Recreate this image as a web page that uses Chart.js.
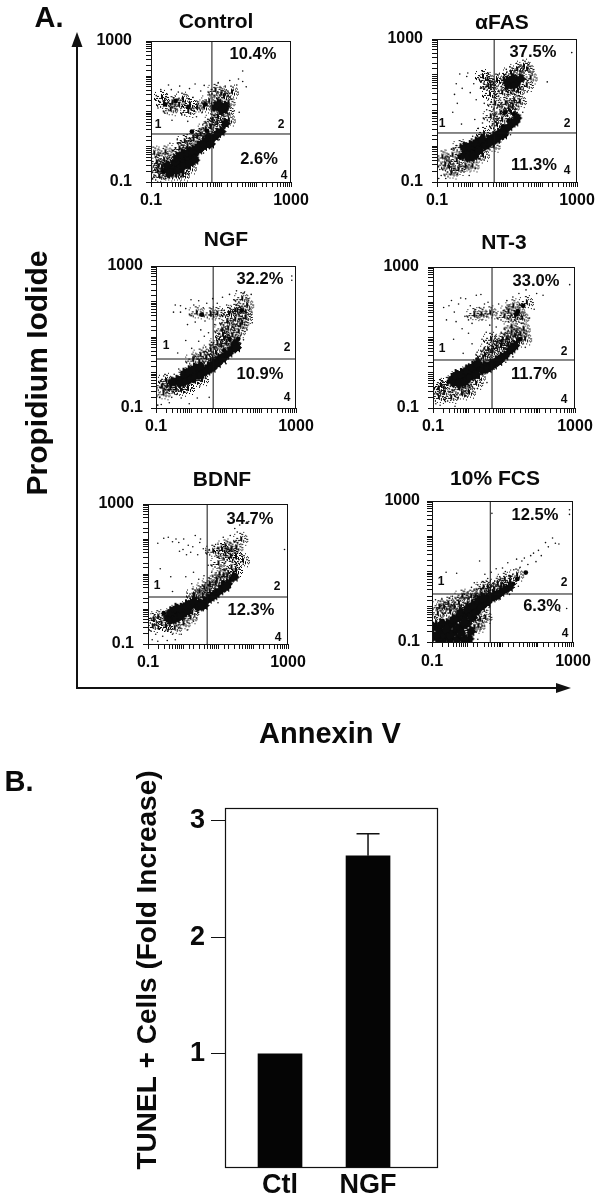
<!DOCTYPE html>
<html><head><meta charset="utf-8">
<script src="https://cdn.jsdelivr.net/npm/chart.js@4"></script>
<style>html,body{margin:0;padding:0;background:#fff}body{width:600px;height:1200px;position:relative;overflow:hidden}canvas{position:absolute}</style>
</head><body>
<script>
// Values are decades: [log10 Annexin V, log10 Propidium Iodide].
const controlDense=[[-.5,-.65],[-.4,-.56],[-.21,-.51],[-.07,-.37],[.07,-.32],[.22,-.23],[.36,-.09],[.5,.01],[.69,.19],[.83,.29],[1,.43],[1.12,.66],[.98,1.13],[1.12,1.15],[.83,1.13],[-.16,-.6],[.12,-.14],[-.3,-.42],[-.35,-.68],[-.2,-.65],[-.05,-.52],[.1,-.45],[.25,-.38],[-.25,-.3],[-.1,-.2],[.05,-.15],[.2,-.1],[.35,.02],[.5,.12],[.62,.28],[.7,.08],[.9,.38],[.92,1.22],[1.05,1.05],[-.55,-.52],[-.48,-.75]];
const controlSmall=[[.17,.43],[.07,1.13],[-.65,-.7],[-.3,1.3],[-.6,1.2],[.55,1.2],[.6,.45]];
const controlHalf=[[-.64,1.23],[-.21,1.18],[.31,1.13],[.5,1.13],[-.83,-.7],[-.78,-.84],[-.64,-.37],[-.35,-.28],[.03,0],[.31,.29],[.69,.57],[1.07,1.42],[1.21,.76],[.88,.66],[.83,1.6],[-.92,-.18],[-.4,1.25],[.1,1.2],[.9,.85],[1.15,1],[-.6,-.15],[-.2,-.05],[-.85,-.45],[-.1,-.8],[-.8,-.55],[-.7,-.6],[-.55,-.8],[-.3,-.8],[-.1,-.7],[.1,-.6],[-.05,.15],[.2,.2],[.4,.35],[.55,.5],[.75,.75],[1,.95],[1,1.5],[1.2,1.25],[1.3,1.55],[-.7,1.4],[-.1,1.35],[.65,1.3],[.05,1],[-.45,1.05]];
const controlSparse=[[-.85,1.45],[-.8,1.1],[-.72,1.62],[-.66,1.3],[-.6,.95],[-.55,1.5],[-.5,1.75],[-.45,1.2],[-.4,.75],[-.35,1.38],[-.3,1.02],[-.22,1.55],[-.18,1.72],[-.12,.9],[-.06,1.28],[0,1.48],[.05,.72],[.1,1.65],[.16,1.05],[.2,1.4],[.26,1.78],[.3,.85],[.35,1.22],[.42,1.58],[.46,.98],[.52,1.74],[.58,1.3],[.62,.78],[.68,1.48],[.74,1.05],[.8,1.68],[.86,.9],[.92,1.82],[1,1.5],[1.05,.8],[1.12,1.72],[1.18,.95],[1.25,1.88],[1.3,1.35],[1.38,1.02],[1.45,1.75],[1.5,1.92],[1.62,1.85],[1.72,1.7],[1.35,1.6],[1.52,.98],[1.62,2.15],[-.92,-.85],[-.85,-.6],[-.78,-.25],[-.7,-.75],[-.65,-.05],[-.58,-.9],[-.52,-.2],[-.46,.1],[-.38,-.82],[-.3,-.05],[-.25,.2],[-.15,-.85],[-.1,.05],[-.05,-.75],[.02,.25],[.08,-.62],[.15,.18],[.22,-.5],[.3,.3],[.35,-.35],[.42,.35],[.5,-.18],[.58,.42],[.62,0],[.7,.52],[.78,.62],[.9,.75],[1.1,.55],[1.2,.9],[1.3,.72],[.95,.2],[1.05,.35],[-.75,1.28],[-.42,1.62],[-.28,1.25],[.12,.95],[.48,.62],[.72,1.22],[.96,1.28],[1.22,1.25],[-.88,-.3],[-.62,-.55],[-.12,-.48],[.28,-.05]];
const fasDense=[[-.24,-.25],[-.1,-.15],[.05,-.11],[.19,-.01],[.33,.08],[.47,.18],[.62,.27],[.76,.36],[.95,.46],[1.14,.65],[1.28,.79],[-.19,-.11],[.09,.03],[-.05,-.3],[1.14,1.77],[1.28,1.82],[1.38,1.89],[1.04,1.73],[-.1,-.3],[.05,-.28],[.2,-.12],[-.22,-.02],[-.05,.02],[.12,.12],[.28,.2],[.4,.02],[.55,.12],[.7,.2],[.9,.32],[1.05,.55],[1.22,.68],[1,1.82],[1.22,1.72],[1.15,1.9],[.85,.4]];
const fasSmall=[[1.05,.72],[.88,.55],[.95,.95],[1.2,.9],[-.35,-.3]];
const fasHalf=[[-.57,-.25],[-.86,-.3],[-.34,-.01],[.52,1.68],[.43,1.87],[.9,1.87],[1.57,2.15],[1.66,1.91],[1.19,1.3],[1.04,1.02],[.8,.93],[1.28,2.15],[.52,.83],[.33,.36],[-.67,-.58],[1.19,1.59],[1.47,2.24],[.85,1.5],[1.1,2.05],[-.45,-.4],[.15,-.3],[.5,1.45],[-.78,-.5],[-.6,-.75],[-.4,-.65],[-.2,-.55],[0,-.55],[.3,-.25],[.6,0],[.7,.6],[.85,.75],[.95,1.2],[1.15,1.1],[1.35,1.25],[.65,1.2],[.7,1.85],[1.3,1.55],[1.55,1.7],[.95,1.6],[.45,1.7],[.3,1.95],[1.1,.95]];
const fasSparse=[[-.45,1.75],[-.5,1.45],[-.42,1.2],[-.35,2.02],[-.28,1.62],[-.12,2.05],[-.05,1.5],[-.15,1.95],[.05,1.75],[.12,1.3],[.2,1.88],[.24,1.62],[.3,2.1],[.35,1.2],[.42,1.02],[.46,2.05],[.55,1.25],[.58,.62],[.66,1.72],[.72,1.08],[.78,2.02],[.84,.78],[.92,1.3],[.98,2.15],[1.05,1.45],[1.12,1.2],[1.2,2.1],[1.25,1.05],[1.32,1.42],[1.38,1.62],[1.42,2.05],[1.5,1.7],[1.58,1.52],[1.72,2.02],[2.15,1.8],[2.85,2.62],[1.4,1.18],[.3,.65],[.18,.5],[.02,.28],[-.12,.08],[-.55,.95],[-.3,.62],[.08,.75],[-.95,-.9],[-.92,-.65],[-.88,-.82],[-.8,-.55],[-.75,-.9],[-.72,-.4],[-.62,-.8],[-.58,-.08],[-.52,-.62],[-.45,.02],[-.42,-.78],[-.35,-.55],[-.28,-.68],[-.22,.1],[-.15,-.55],[-.08,-.82],[-.02,.2],[.05,-.45],[.1,-.62],[.18,-.35],[.25,.25],[.4,-.15],[.48,-.05],[.55,.5],[.7,.6],[.82,.12],[1.02,.85],[1.1,.32],[1.45,.95],[.9,.2]];
const ngfDense=[[-.4,-.22],[-.26,-.17],[-.12,-.08],[.03,-.03],[.17,.02],[.31,.06],[.5,.16],[.64,.25],[.79,.39],[.98,.49],[1.17,.67],[1.26,.81],[-.54,-.27],[.05,-.12],[-.3,-.3],[-.15,-.25],[0,-.18],[.12,-.1],[.28,-.06],[-.2,-.02],[-.05,.05],[.1,.12],[.25,.18],[.45,.04],[.6,.12],[.75,.25],[.9,.38],[1.08,.55],[1.3,.7]];
const ngfSmall=[[1.45,1.75],[.31,1.63],[1.1,.95],[.95,.62],[1.35,.95]];
const ngfHalf=[[-.73,-.22],[-.69,-.36],[.74,1.66],[1.07,1.66],[1.31,1.75],[1.59,1.9],[1.4,1.33],[1.17,1.05],[.93,.96],[.74,.81],[.55,.63],[.26,.49],[1.45,2.08],[1.02,1.43],[-.45,-.45],[.1,-.25],[1.25,1.5],[1.55,1.55],[.88,1.2],[.42,.42],[-.6,-.45],[-.3,-.5],[-.1,-.45],[.3,-.2],[.55,.35],[.7,.55],[.85,.75],[1,.85],[1.2,.85],[1.35,1.15],[1.25,1.75],[1.05,1.25],[.55,1.65],[1.55,1.7],[.15,1.68],[.05,.35],[1.45,1.4],[.9,1.05],[-.8,-.6],[-.85,-.4]];
const ngfSparse=[[-.5,1.7],[-.45,1.9],[-.3,1.88],[-.3,1.7],[-.15,1.8],[-.1,1.35],[0,2.05],[.02,1.6],[.08,1.9],[.12,1.42],[.18,1.72],[.22,2.02],[.28,1.2],[.35,1.82],[.4,1.45],[.45,1.95],[.5,1.12],[.55,1.72],[.58,.85],[.62,2.08],[.68,1.35],[.75,1.95],[.82,1.1],[.9,2.12],[.95,1.75],[1.02,1.9],[1.1,2.2],[1.18,1.3],[1.22,2.05],[1.3,2.3],[1.42,1.05],[1.52,2.25],[1.6,1.2],[1.68,1.78],[1.75,1.4],[1.72,2.2],[2.88,2.6],[2.88,2.72],[-.38,.55],[-.15,.9],[.02,.68],[.12,.45],[.22,.88],[.38,1.02],[.42,.72],[-.95,-.92],[-.9,-.7],[-.85,-.9],[-.78,-.1],[-.72,-.58],[-.62,-.85],[-.55,-.7],[-.48,-.05],[-.42,-.62],[-.35,.1],[-.28,-.72],[-.2,-.55],[-.12,.12],[-.05,-.88],[.02,-.45],[.1,.15],[.18,-.72],[.25,-.38],[.35,.22],[.42,-.15],[.52,-.7],[.7,.1],[1,.25],[1.08,.4],[1.42,.82],[1.5,.92],[1.25,1.2]];
const nt3Dense=[[-.46,-.17],[-.32,-.15],[-.17,-.13],[-.03,-.03],[.16,.06],[.3,.16],[.44,.2],[.63,.25],[.78,.34],[.92,.44],[1.16,.63],[1.3,.77],[-.25,-.25],[.02,.1],[-.4,-.28],[-.25,-.3],[-.1,-.25],[.05,-.12],[.2,-.05],[-.35,-.05],[-.2,-.02],[-.05,.08],[.12,.18],[.25,.28],[.4,.08],[.55,.12],[.7,.22],[.85,.32],[1.02,.48],[1.22,.68]];
const nt3Small=[[1.39,1.75],[1.54,1.9],[1.35,1.66],[1.45,.95],[-.55,-.25]];
const nt3Half=[[-.79,-.36],[-.7,-.55],[-.27,-.45],[.92,.86],[.78,.72],[1.06,.96],[1.3,1.05],[1.54,1.24],[1.11,1.75],[1.25,1.9],[1.63,1.99],[.54,.67],[.35,1.66],[.4,.44],[1.58,.96],[.62,.95],[1.2,1.3],[-.85,-.7],[-.1,-.38],[.28,-.12],[1.5,1.55],[-.6,-.3],[-.85,-.45],[-.5,-.7],[-.2,-.6],[0,-.55],[.2,-.3],[.45,.5],[.65,.6],[.9,.75],[1.1,.8],[1.35,.9],[1.45,1.1],[1.2,1.15],[1.4,1.7],[1,1.6],[.95,.95],[1.3,1.6],[.15,1.65],[.6,1.7]];
const nt3Sparse=[[-.7,1.85],[-.62,1.5],[-.55,1.9],[-.48,2.05],[-.4,1.72],[-.35,1.45],[-.28,1.95],[-.22,2.12],[-.18,1.25],[-.1,1.6],[-.08,2.1],[0,1.5],[0,1.12],[.05,1.9],[.1,1.4],[.18,1.75],[.22,2.2],[.3,1.85],[.35,2.22],[.38,1.5],[.45,1.95],[.5,1.15],[.55,2],[.6,1.35],[.7,1.72],[.78,1.3],[.85,1.95],[.92,1.15],[1,1.6],[1.08,2.05],[1.12,1.45],[1.25,2.15],[1.3,1.5],[1.42,2.25],[1.5,1.4],[1.62,2.35],[1.72,1.55],[1.85,1.8],[1.92,2.25],[2.1,2.2],[2.85,2.5],[-.42,.95],[-.15,.55],[.1,.82],[.22,.5],[.38,.95],[.45,.72],[.55,.35],[-.95,-.6],[-.92,-.88],[-.85,-.4],[-.8,-.92],[-.72,-.25],[-.65,-.82],[-.55,-.55],[-.5,-.78],[-.42,-.62],[-.38,-.95],[-.3,-.72],[-.22,.1],[-.15,-.55],[-.08,-.65],[.02,-.42],[.1,-.58],[.15,-.22],[.25,-.45],[.35,-.2],[.4,-.05],[.52,-.28],[.72,.1],[1.05,.3],[1.6,.72],[1.55,1.15],[1.25,.45]];
const bdnfDense=[[-.44,-.22],[-.3,-.11],[-.15,-.08],[-.01,-.08],[.13,.02],[.27,.11],[.46,.16],[.61,.2],[.8,.34],[.94,.44],[1.13,.63],[1.27,.72],[1.46,.91],[-.25,-.22],[-.1,-.22],[-.35,-.32],[-.2,-.28],[-.05,-.18],[.1,-.08],[-.35,-.08],[-.2,.02],[-.05,.02],[.1,.12],[.3,.22],[.45,.06],[.6,.1],[.72,.28],[.88,.38],[1.05,.52],[1.22,.62]];
const bdnfSmall=[[.2,.18],[.52,.05],[-.55,-.12],[1.15,.75],[1.38,.85]];
const bdnfHalf=[[-.72,-.22],[-.63,-.41],[1.03,1],[.75,.72],[1.37,1.19],[1.51,1.75],[1.65,1.99],[1.37,1.71],[.46,.49],[1.7,1.38],[1.15,.95],[.92,.72],[-.85,-.3],[.2,-.25],[.55,.35],[1.2,1.55],[-.88,-.5],[-.5,-.5],[-.25,-.55],[0,-.42],[.25,-.1],[.3,.4],[.6,.6],[.75,.5],[.95,.8],[1.25,.95],[1.5,1.1],[1.35,1.5],[1.5,1.5],[1.1,1.7],[.85,1.65],[1,1.3],[1.2,1.8]];
const bdnfSparse=[[-.72,1.88],[-.55,2.02],[-.42,2.05],[-.3,1.92],[-.2,2],[-.12,1.9],[-.1,1.65],[0,1.7],[.02,2],[.1,1.55],[.15,1.82],[.22,1.62],[.28,1.78],[.35,2.1],[.42,1.55],[.48,1.9],[.5,2],[.58,1.72],[.65,1.68],[.72,1.25],[.75,1.7],[.82,1.05],[.88,1.65],[.95,1.52],[1,1.85],[1.05,1.2],[1.1,1.7],[1.15,2.05],[1.22,1.35],[1.28,1.92],[1.35,2.1],[1.42,1.1],[1.48,2.3],[1.55,2.2],[1.6,1.15],[1.62,2.4],[1.72,1.28],[1.8,2.45],[1.88,2.5],[2.9,1.7],[-.65,1.15],[-.35,.92],[-.3,.5],[.08,.92],[.12,.45],[.25,.72],[.3,1.05],[.38,.4],[.45,.85],[.6,.95],[.68,.6],[-.92,-.62],[-.88,-.88],[-.82,-.45],[-.78,-.72],[-.72,-.92],[-.65,-.55],[-.58,-.78],[-.5,-.62],[-.45,-.9],[-.38,-.5],[-.3,-.72],[-.22,-.88],[-.12,-.55],[-.05,-.72],[.05,-.42],[.12,-.6],[.2,-.2],[.3,-.35],[.42,-.12],[.58,-.05],[1,.18],[.85,.78],[1.3,1.02]];
const fcsDense=[[-.95,-.86],[-.95,-.58],[-.81,-.91],[-.57,-.67],[-.57,-.48],[-.43,-.48],[-.29,-.34],[-.15,-.25],[0,-.2],[.14,-.11],[.24,-.01],[.38,.08],[.57,.22],[.75,.32],[.95,.41],[1.19,.55],[-.19,-.58],[-.38,-.72],[0,-.48],[.05,-.91],[-.7,-.91],[-.5,-.91],[-.3,-.91],[-.1,-.91],[.15,-.3],[-.8,-.65],[-.85,-.78],[-.65,-.78],[-.48,-.8],[-.3,-.6],[-.1,-.42],[.1,-.25],[.25,-.15],[.4,0],[.55,.12],[.7,.25],[.85,.32],[1.05,.48],[-.4,-.35],[-.2,-.15],[0,-.05],[.15,.05],[.3,.18],[.45,.25],[-.75,-.5],[-.6,-.62],[-.18,-.75],[.1,-.7]];
const fcsSmall=[[1.42,.79],[1.66,.97],[1.3,.65],[-.7,-.4],[.45,.28]];
const fcsHalf=[[-.67,-.01],[-.38,-.01],[.19,-.58],[-.1,-.76],[.38,.36],[.57,.55],[.85,.64],[-.72,-.72],[0,.08],[-.85,-.2],[-.5,-.15],[.35,-.35],[1.05,.78],[.22,.3],[-.8,0],[-.55,.1],[-.25,.1],[.3,-.55],[.5,-.3],[.6,.4],[.75,.5],[.95,.6],[1.2,.72],[-.9,-.45],[-.15,.3],[.1,.3],[1.4,.9],[.45,.55]];
const fcsSparse=[[-.9,.2],[-.8,.05],[-.72,.22],[-.6,.12],[-.5,.25],[-.42,.3],[-.28,.18],[-.15,.25],[-.08,.35],[.02,.42],[.12,.55],[.2,.68],[.3,.62],[.45,.7],[.5,.92],[.58,.8],[.68,.98],[.78,.72],[.82,1.08],[.92,.85],[1,1.1],[1.08,1],[1.15,1.25],[1.22,.88],[1.32,1.05],[1.4,1.35],[1.5,1.12],[1.55,1.3],[1.62,1.38],[1.72,1.2],[1.8,1.45],[1.88,1.52],[1.95,1.28],[2.02,1.6],[2.1,1.45],[2.22,1.82],[2.3,1.7],[2.42,1.95],[2.6,1.78],[2.5,1.8],[.7,2.65],[2.9,2.62],[2.9,2.75],[-.3,.95],[-.6,.98],[.35,1.3],[-.92,-.32],[-.82,-.62],[-.72,-.3],[-.62,-.18],[-.55,-.82],[-.45,-.1],[-.4,-.32],[-.3,-.82],[-.22,.02],[-.12,-.68],[-.05,.1],[.05,-.72],[.12,.12],[.18,-.42],[.25,-.72],[.3,-.18],[.42,-.55],[.48,-.25],[.55,-.1],[.62,-.02],[.9,.2],[1.2,.35],[1.45,.58],[2.82,-.05],[2.62,-.12],[-.2,-.95],[.1,-.98],[.3,-.92]];
const panelNames=["Control","αFAS","NGF","NT-3","BDNF","10% FCS"];
const upperPercents=["10.4%","37.5%","32.2%","33.0%","34.7%","12.5%"];
const lowerPercents=["2.6%","11.3%","10.9%","11.7%","12.3%","6.3%"];
const axisTickLabels=[0.1,1000];
const gateX=[5.5,4.3,4.3,4.6,4.9,4.5];
const gateY=[2.3,2.35,2.4,2.3,2.2,2.3];
const barCategories=["Ctl","NGF"];
const barValues=[1,2.7];
const barErrors=[0,0.19];
const barTicks=[1,2,3];

const series=[
 [controlDense,controlSmall,controlHalf,controlSparse],
 [fasDense,fasSmall,fasHalf,fasSparse],
 [ngfDense,ngfSmall,ngfHalf,ngfSparse],
 [nt3Dense,nt3Small,nt3Half,nt3Sparse],
 [bdnfDense,bdnfSmall,bdnfHalf,bdnfSparse],
 [fcsDense,fcsSmall,fcsHalf,fcsSparse]];
// layout of each panel on the page
const boxes=[
 {l:151,r:291,t:41,b:182,tx:216,ty:22,up:[253,54],lo:[259,159],q:[[158,125],[281,125],[284,176]],yp:14,xp:4},
 {l:437,r:577,t:39,b:182,tx:502,ty:23,up:[533,52],lo:[534,165],q:[[442,124],[567,124],[567,171]],yp:9,xp:4},
 {l:156,r:296,t:266,b:408,tx:226,ty:240,up:[260,279],lo:[260,374],q:[[166,346],[287,348],[287,398]],yp:8,xp:4},
 {l:433,r:575,t:267,b:408,tx:504,ty:243,up:[536,281],lo:[534,374],q:[[442,349],[564,352],[564,400]],yp:9,xp:4},
 {l:148,r:288,t:504,b:644,tx:222,ty:480,up:[250,519],lo:[251,610],q:[[157,586],[277,587],[278,638]],yp:9,xp:4},
 {l:432,r:573,t:501,b:642,tx:495,ty:479,up:[535,515],lo:[542,606],q:[[441,582],[564,583],[565,634]],yp:7,xp:5}];
const FONT='"Liberation Sans", Arial, sans-serif';
const toPts=a=>a.map(([x,y])=>({x:10**x,y:10**y}));
// dot textures: a speckled cloud for the half-tone areas, a blot with rough edge for the solid ones
function sprite(n,density){const c=document.createElement('canvas');c.width=c.height=n;const g=c.getContext('2d');g.fillStyle='#0c0c0c';
 const m=(n-1)/2;for(let i=0;i<n;i++)for(let j=0;j<n;j++){const r=Math.hypot(i-m,j-m)/m;const h=((i*i*7+j*j*13+i*j*3+i*5+j*11)%29)/29;if(h<density(r))g.fillRect(i,j,1,1);}return c;}
const cloud=sprite(17,r=>r>1?0:.3*(1-r*r*.6));
const blot=sprite(13,r=>r<.58?1:r>1?0:1-(r-.58)/.42);
function mkCanvas(l,t,w,h){const c=document.createElement('canvas');c.width=w;c.height=h;c.style.left=l+'px';c.style.top=t+'px';c.style.width=w+'px';c.style.height=h+'px';document.body.appendChild(c);return c;}
function txt(ctx,s,x,y,font,rot){ctx.save();ctx.translate(x,y);if(rot)ctx.rotate(rot);ctx.font=font;ctx.fillStyle='#0a0a0a';ctx.textAlign='center';ctx.textBaseline='middle';ctx.fillText(s,0,0);ctx.restore();}

// Frame with the two large arrows and outer labels
const P={l:77,r:565,t:46,b:688};
new Chart(mkCanvas(0,0,600,810),{type:'scatter',data:{datasets:[]},
 options:{responsive:false,animation:false,layout:{padding:{left:P.l,right:600-P.r,top:P.t,bottom:810-P.b}},
  plugins:{legend:{display:false},tooltip:{enabled:false},title:{display:false}},
  scales:{x:{min:0,max:1,afterFit:s=>{s.height=0},ticks:{display:false},grid:{display:false},border:{color:'#111',width:2}},
          y:{min:0,max:1,afterFit:s=>{s.width=0},ticks:{display:false},grid:{display:false},border:{color:'#111',width:2}}}},
 plugins:[{id:'arrows',afterDraw(ch){const c=ch.ctx,a=ch.chartArea;c.fillStyle='#111';
   c.beginPath();c.moveTo(a.left,a.top-14);c.lineTo(a.left-5.5,a.top+1);c.lineTo(a.left+5.5,a.top+1);c.fill();
   c.beginPath();c.moveTo(a.right+6,a.bottom);c.lineTo(a.right-9,a.bottom-5);c.lineTo(a.right-9,a.bottom+5);c.fill();
   txt(c,'A.',49,19,'bold 29px '+FONT);
   txt(c,'B.',19,783,'bold 29px '+FONT);
   txt(c,'Annexin V',330,735,'bold 29px '+FONT);
   txt(c,'Propidium Iodide',39,373,'bold 30px '+FONT,-Math.PI/2);}}]});

// Six cytometry panels
series.forEach((s,i)=>{const b=boxes[i],pl=62,pr=34,pt=40,pb=42,w=b.r-b.l,h=b.b-b.t;
 const tickCfg={autoSkip:false,minRotation:0,maxRotation:0,color:'#0a0a0a',font:{family:FONT,weight:'bold',size:16},
   callback:v=>axisTickLabels.some(t=>Math.abs(t-v)<1e-9)?String(v):''};
 const grid={drawOnChartArea:false,drawTicks:true,tickLength:5,color:'#111',lineWidth:1};
 new Chart(mkCanvas(b.l-pl,b.t-pt,w+pl+pr,h+pt+pb),{type:'scatter',
  data:{datasets:[
   {data:[{x:gateX[i],y:.1},{x:gateX[i],y:1000}],showLine:true,borderColor:'#111',borderWidth:1,pointRadius:0},
   {data:[{x:.1,y:gateY[i]},{x:1000,y:gateY[i]}],showLine:true,borderColor:'#111',borderWidth:1,pointRadius:0},
   {data:toPts(s[0]),pointStyle:blot,pointRadius:6},
   {data:toPts(s[1]),backgroundColor:'#050505',borderWidth:0,pointRadius:2.4},
   {data:toPts(s[3]),backgroundColor:'#111',borderWidth:0,pointRadius:.8},
   {data:toPts(s[2]),pointStyle:cloud,pointRadius:8}]},
  options:{responsive:false,animation:false,layout:{padding:{left:0,right:pr,top:pt,bottom:0}},
   plugins:{legend:{display:false},tooltip:{enabled:false},title:{display:false}},
   scales:{x:{type:'logarithmic',min:.1,max:1000,afterFit:a=>{a.height=pb},grid,border:{display:false},ticks:{...tickCfg,padding:b.xp}},
           y:{type:'logarithmic',min:.1,max:1000,afterFit:a=>{a.width=pl},grid,border:{display:false},ticks:{...tickCfg,padding:b.yp}}}},
  plugins:[{id:'panelText',afterDraw(ch){const c=ch.ctx,a=ch.chartArea,ox=b.l-pl,oy=b.t-pt;
    c.strokeStyle='#111';c.lineWidth=1;c.strokeRect(a.left+.5,a.top+.5,a.right-a.left-1,a.bottom-a.top);
    txt(c,panelNames[i],b.tx-ox,b.ty-oy,'bold 21px '+FONT);
    txt(c,upperPercents[i],b.up[0]-ox,b.up[1]-oy,'bold 16.5px '+FONT);
    txt(c,lowerPercents[i],b.lo[0]-ox,b.lo[1]-oy,'bold 16.5px '+FONT);
    ['1','2','4'].forEach((q,k)=>txt(c,q,b.q[k][0]-ox,b.q[k][1]-oy,'bold 12px '+FONT));}}]});
});

// Panel B
new Chart(mkCanvas(120,760,340,440),{type:'bar',
 data:{datasets:[{data:barValues.map((v,k)=>({x:k+1,y:v})),backgroundColor:'#050505',borderWidth:0,barThickness:44}]},
 options:{responsive:false,animation:false,layout:{padding:{left:0,right:22,top:48,bottom:0}},
  plugins:{legend:{display:false},tooltip:{enabled:false},title:{display:false}},
  scales:{x:{type:'linear',offset:false,min:.375,max:2.795,afterFit:a=>{a.height=32},afterBuildTicks:a=>{a.ticks=barCategories.map((_,k)=>({value:k+1}))},
     grid:{display:false,drawTicks:false,offset:false},border:{display:false},
     ticks:{autoSkip:false,padding:1,color:'#0a0a0a',font:{family:FONT,weight:'bold',size:27},callback:v=>barCategories[v-1]}},
    y:{min:.02,max:3.11,afterFit:a=>{a.width=105},afterBuildTicks:a=>{a.ticks=barTicks.map(v=>({value:v}))},
     grid:{drawOnChartArea:false,tickLength:14,color:'#111',lineWidth:1},border:{display:false},
     ticks:{padding:6,color:'#0a0a0a',font:{family:FONT,weight:'bold',size:27},callback:v=>String(v)}}}},
 plugins:[{id:'frameErr',afterDatasetsDraw(ch){const c=ch.ctx,a=ch.chartArea,X=ch.scales.x,Y=ch.scales.y;
   c.strokeStyle='#111';c.lineWidth=1.2;c.strokeRect(a.left+.5,a.top+.5,a.right-a.left-1,a.bottom-a.top-1);
   barErrors.forEach((e,k)=>{if(!e)return;const x=X.getPixelForValue(k+1),y0=Y.getPixelForValue(barValues[k]),y1=Y.getPixelForValue(barValues[k]+e);
     c.lineWidth=1.5;c.beginPath();c.moveTo(x,y0);c.lineTo(x,y1);c.moveTo(x-11.5,y1);c.lineTo(x+11.5,y1);c.stroke();});
   txt(c,'TUNEL + Cells (Fold Increase)',28,210,'bold 28px '+FONT,-Math.PI/2);}}]});
</script>
</body></html>
